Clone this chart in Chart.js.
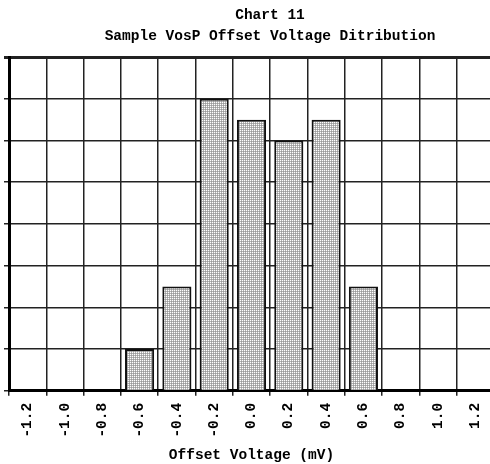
<!DOCTYPE html>
<html>
<head>
<meta charset="utf-8">
<script src="https://cdn.jsdelivr.net/npm/chart.js@4"></script>
<style>
  html, body { margin: 0; padding: 0; background: #fff; overflow: hidden; }
  #caja { width: 536px; height: 464px; }
</style>
</head>
<body>
<div id="caja"><canvas id="grafico"></canvas></div>
<script>
// datos
const categorias = ['-1.2', '-1.0', '-0.8', '-0.6', '-0.4', '-0.2', '0.0', '0.2', '0.4', '0.6', '0.8', '1.0', '1.2'];
const cuentas = [null, null, null, 2, 5, 14, 13, 12, 13, 5, null, null, null];
const yMax = 16;
const yPaso = 2;

const fuente = "'Liberation Mono', 'DejaVu Sans Mono', monospace";

// trama de puntos para las barras
function crearTrama() {
    const c = document.createElement('canvas');
    c.width = 2;
    c.height = 2;
    const g = c.getContext('2d');
    g.fillStyle = '#b4b4b4';
    g.fillRect(0, 0, 2, 2);
    g.fillStyle = '#ffffff';
    g.fillRect(0, 0, 1, 1);
    g.fillStyle = '#9a9a9a';
    g.fillRect(1, 1, 1, 1);
    return g.createPattern(c, 'repeat');
}

const ctx = document.getElementById('grafico').getContext('2d');
const grafico = new Chart(ctx, {
    type: 'bar',
    data: {
        labels: categorias,
        datasets: [{
            data: cuentas,
            backgroundColor: crearTrama(),
            borderColor: '#111',
            borderWidth: 2,
            barPercentage: 0.78,
            categoryPercentage: 1
        }]
    },
    options: {
        responsive: true,
        maintainAspectRatio: false,
        animation: false,
        layout: { padding: { left: 4, right: 0, top: 0, bottom: 0 } },
        plugins: {
            legend: { display: false },
            tooltip: { enabled: false },
            title: {
                display: true,
                text: ['Chart 11', 'Sample VosP Offset Voltage Ditribution'],
                color: '#000',
                font: { family: fuente, size: 14.5, weight: 'bold', lineHeight: 1.45 },
                padding: { top: 5, bottom: 10 }
            }
        },
        scales: {
            x: {
                grid: {
                    color: '#222',
                    lineWidth: 1.5,
                    tickLength: 5,
                    offset: true
                },
                border: { color: '#000', width: 3 },
                ticks: {
                    color: '#000',
                    font: { family: fuente, size: 14.5, weight: 'bold' },
                    minRotation: 90,
                    maxRotation: 90,
                    padding: 7,
                    autoSkip: false
                },
                title: {
                    display: true,
                    text: 'Offset Voltage (mV)',
                    color: '#000',
                    font: { family: fuente, size: 14.5, weight: 'bold', lineHeight: 1.2 },
                    padding: { top: 2, bottom: 0 }
                }
            },
            y: {
                min: 0,
                max: yMax,
                grid: {
                    color: '#222',
                    lineWidth: (c) => (c.tick && c.tick.value === yMax ? 3 : 1.5),
                    tickLength: 5
                },
                border: { color: '#000', width: 3 },
                ticks: { display: false, stepSize: yPaso }
            },
            // eje vacio a la derecha, solo para dejar el hueco
            derecha: {
                type: 'linear',
                position: 'right',
                min: 0,
                max: yMax,
                grid: { display: false },
                border: { display: false },
                ticks: { display: false },
                afterFit: (s) => { s.width = 42; }
            }
        }
    }
});
</script>
</body>
</html>
